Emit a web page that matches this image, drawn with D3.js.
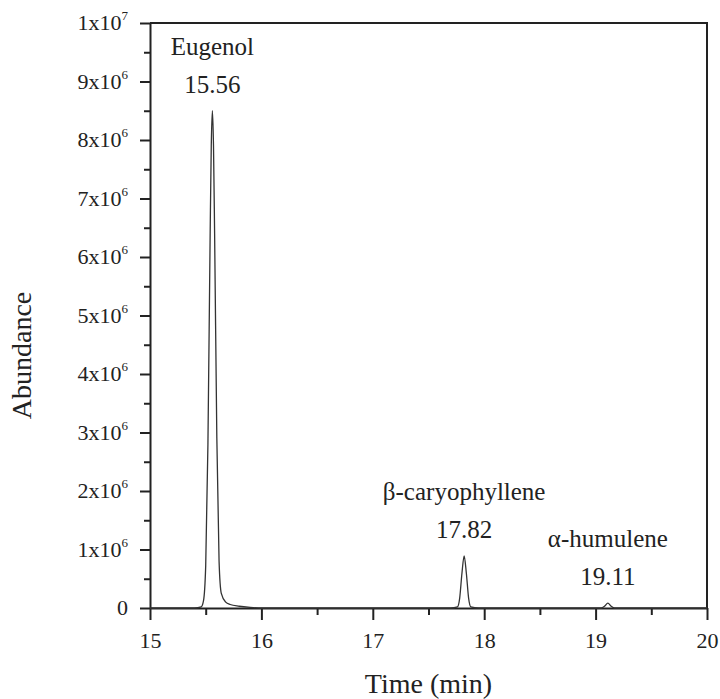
<!DOCTYPE html>
<html>
<head>
<meta charset="utf-8">
<script src="https://cdn.jsdelivr.net/npm/d3@7"></script>
<style>
  body { margin: 0; background: #fff; }
</style>
</head>
<body>
<div id="chart"></div>
<script>
// chromatogram trace
var times = [15.00, 15.40, 15.46, 15.48, 15.50, 15.52, 15.54, 15.55, 15.56, 15.57, 15.58, 15.60,
             15.62, 15.64, 15.68, 15.72, 15.80, 15.90, 16.00, 17.70, 17.76, 17.78, 17.80, 17.82,
             17.84, 17.86, 17.88, 17.95, 19.05, 19.08, 19.11, 19.14, 19.17, 20.00];
var abundance = [0, 0, 0.02e6, 0.12e6, 0.72e6, 2.8e6, 6.4e6, 7.9e6, 8.5e6, 7.9e6, 6.4e6, 2.9e6,
                 0.8e6, 0.25e6, 0.1e6, 0.06e6, 0.03e6, 0.01e6, 0, 0, 0.02e6, 0.17e6, 0.59e6, 0.89e6,
                 0.59e6, 0.17e6, 0.02e6, 0, 0, 0.03e6, 0.085e6, 0.03e6, 0, 0];

var peakNames = ["Eugenol", "\u03b2-caryophyllene", "\u03b1-humulene"];
var peakTimes = [15.56, 17.82, 19.11];
var peakTops = [8.5e6, 0.89e6, 0.085e6];

var xTicks = [15, 16, 17, 18, 19, 20];
var yTicks = [0, 1e6, 2e6, 3e6, 4e6, 5e6, 6e6, 7e6, 8e6, 9e6, 1e7];

var width = 720, height = 699;
var margin = {top: 23, right: 13, bottom: 91, left: 150};
var serif = "'Liberation Serif', 'Times New Roman', Times, serif";

var svg = d3.select("#chart").append("svg")
            .attr("width", width)
            .attr("height", height);

var x = d3.scaleLinear().domain([15, 20]).range([margin.left, width - margin.right]);
var y = d3.scaleLinear().domain([0, 1e7]).range([height - margin.bottom, margin.top]);

// frame (top and right)
svg.append("path")
   .attr("d", "M" + x(15) + "," + y(1e7) + "H" + x(20) + "V" + y(0))
   .attr("fill", "none")
   .attr("stroke", "#222")
   .attr("stroke-width", 2);

// minor ticks
var xMinor = d3.range(15.5, 20, 1);
var yMinor = d3.range(0.5e6, 1e7, 1e6);

svg.append("g")
   .attr("transform", "translate(0," + y(0) + ")")
   .call(d3.axisBottom(x).tickValues(xMinor).tickSize(7).tickFormat(""))
   .call(function(g) { g.select(".domain").remove(); });

svg.append("g")
   .attr("transform", "translate(" + x(15) + ",0)")
   .call(d3.axisLeft(y).tickValues(yMinor).tickSize(6).tickFormat(""))
   .call(function(g) { g.select(".domain").remove(); });

// major axes
var xAxis = svg.append("g")
   .attr("transform", "translate(0," + y(0) + ")")
   .call(d3.axisBottom(x).tickValues(xTicks).tickSize(12).tickSizeOuter(0).tickFormat(d3.format("d")));
xAxis.selectAll("text")
     .attr("y", 40).attr("dy", null)
     .style("font-size", "22px");

var yAxis = svg.append("g")
   .attr("transform", "translate(" + x(15) + ",0)")
   .call(d3.axisLeft(y).tickValues(yTicks).tickSize(10).tickSizeOuter(0).tickFormat(""));

svg.selectAll("g.tick line, .domain").attr("stroke", "#222").attr("stroke-width", 2);

// y labels like 9x10^6
yTicks.forEach(function(v) {
  var t = svg.append("text")
             .attr("x", x(15) - 22)
             .attr("y", y(v) + 7)
             .attr("text-anchor", "end")
             .style("font-size", "22px");
  if (v === 0) { t.text("0"); return; }
  var e = Math.floor(Math.log10(v) + 1e-9);
  var m = Math.round(v / Math.pow(10, e));
  t.append("tspan").text(m + "x10");
  t.append("tspan").attr("dy", -10).style("font-size", "13px").text(e);
});

// trace
var pts = times.map(function(t, i) { return [t, abundance[i]]; });
var line = d3.line()
             .x(function(d) { return x(d[0]); })
             .y(function(d) { return y(d[1]); })
             .curve(d3.curveMonotoneX);

svg.append("path")
   .datum(pts)
   .attr("d", line)
   .attr("fill", "none")
   .attr("stroke", "#333")
   .attr("stroke-width", 1.3);

// peak labels
peakNames.forEach(function(name, i) {
  var px = x(peakTimes[i]), py = y(peakTops[i]);
  svg.append("text")
     .attr("x", px).attr("y", py - 18)
     .attr("text-anchor", "middle")
     .style("font-size", "25px")
     .text(peakTimes[i].toFixed(2));
  svg.append("text")
     .attr("x", px).attr("y", py - 56)
     .attr("text-anchor", "middle")
     .style("font-size", "25px")
     .text(name);
});

// axis titles
svg.append("text")
   .attr("x", (x(15) + x(20)) / 2)
   .attr("y", 693)
   .attr("text-anchor", "middle")
   .style("font-size", "28px")
   .text("Time (min)");

svg.append("text")
   .attr("transform", "translate(31," + ((y(0) + y(1e7)) / 2 + 40) + ") rotate(-90)")
   .attr("text-anchor", "middle")
   .style("font-size", "28px")
   .text("Abundance");

svg.selectAll("text")
   .style("font-family", serif)
   .style("fill", "#222");
</script>
</body>
</html>
